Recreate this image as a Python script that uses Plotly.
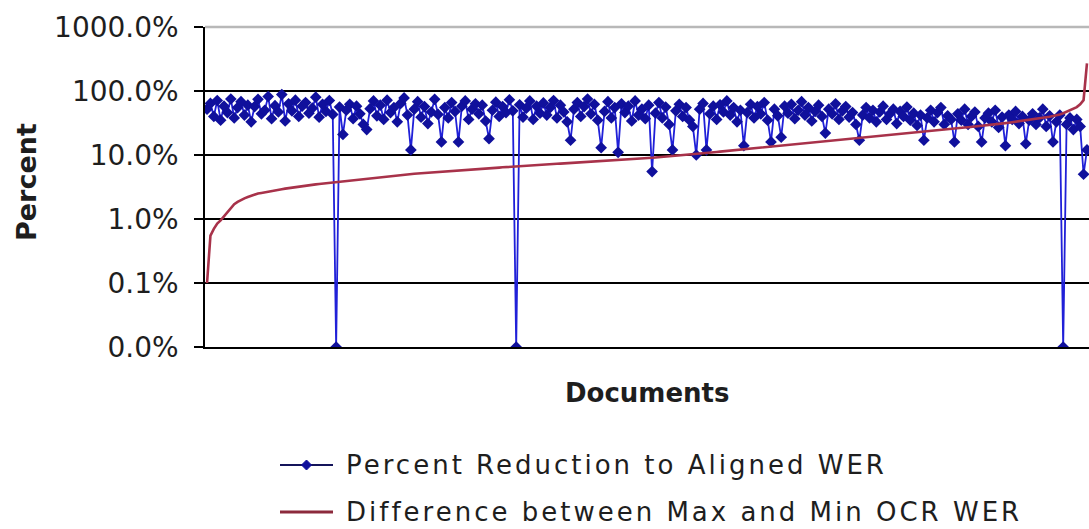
import plotly.graph_objects as go

# Percent reduction to aligned WER, one value per document (0.01 is the 0.0% floor of the log axis)
reduction_pct = [
    52, 64, 40, 71, 35, 58, 46, 75, 38, 55,
    68, 42, 60, 33, 57, 74, 44, 50, 82, 37,
    59, 47, 88, 34, 63, 49, 72, 40, 58, 66,
    45, 54, 80, 39, 62, 48, 71, 43, 0.01, 56,
    21, 50, 62, 37, 58, 44, 30, 25, 53, 70,
    41, 60, 36, 72, 46, 55, 33, 64, 78, 42,
    12, 52, 68, 39, 57, 31, 47, 74, 43, 16,
    55, 38, 66, 48, 16, 58, 70, 36, 52, 63,
    44, 60, 34, 18, 50, 67, 40, 57, 46, 73,
    49, 0.01, 61, 39, 54, 70, 36, 58, 45, 65,
    42, 55, 71, 38, 60, 47, 33, 17, 52, 66,
    40, 57, 75, 44, 62, 35, 13, 48, 68, 38,
    55, 11, 63, 46, 58, 34, 70, 42, 52, 37,
    60, 5.5, 45, 66, 38, 56, 30, 12, 49, 62,
    40, 55, 35, 28, 10, 52, 64, 12, 44, 58,
    36, 61, 47, 70, 42, 55, 33, 50, 14, 46,
    62, 38, 57, 44, 66, 35, 16, 52, 41, 19,
    58, 45, 62, 37, 50, 68, 42, 55, 34, 48,
    60, 40, 22, 52, 44, 63, 36, 49, 57, 39,
    46, 30, 17, 42, 55, 38, 50, 33, 47, 58,
    36, 44, 52, 31, 48, 40, 56, 35, 45, 29,
    42, 17, 38, 50, 33, 46, 55, 30, 41, 36,
    16, 44, 35, 52, 30, 40, 47, 28, 16, 38,
    45, 33, 50, 27, 39, 14, 42, 36, 48, 31,
    40, 15, 35, 44, 30, 38, 52, 28, 41, 16,
    33, 42, 0.01, 30, 38, 25, 36, 28, 5, 12,
]

# Difference between max and min OCR WER, documents sorted by this value
ocr_diff_pct = [
    0.10, 0.55, 0.70, 0.85, 0.95, 1.10, 1.30, 1.50, 1.70, 1.85,
    2.00, 2.10, 2.20, 2.30, 2.40, 2.50, 2.55, 2.62, 2.68, 2.74,
    2.80, 2.86, 2.92, 2.98, 3.04, 3.10, 3.16, 3.22, 3.28, 3.33,
    3.38, 3.43, 3.48, 3.53, 3.58, 3.63, 3.68, 3.73, 3.78, 3.83,
    3.88, 3.93, 3.98, 4.03, 4.08, 4.13, 4.18, 4.23, 4.28, 4.34,
    4.40, 4.47, 4.54, 4.61, 4.68, 4.75, 4.82, 4.89, 4.96, 5.02,
    5.06, 5.10, 5.14, 5.18, 5.22, 5.26, 5.30, 5.34, 5.38, 5.42,
    5.46, 5.50, 5.55, 5.60, 5.65, 5.70, 5.76, 5.82, 5.88, 5.94,
    6.00, 6.06, 6.12, 6.18, 6.24, 6.30, 6.36, 6.42, 6.48, 6.55,
    6.62, 6.68, 6.73, 6.78, 6.83, 6.88, 6.93, 6.98, 7.03, 7.08,
    7.13, 7.18, 7.23, 7.28, 7.33, 7.38, 7.44, 7.50, 7.56, 7.62,
    7.68, 7.74, 7.80, 7.86, 7.92, 7.98, 8.04, 8.10, 8.16, 8.22,
    8.28, 8.34, 8.40, 8.46, 8.52, 8.58, 8.64, 8.72, 8.80, 8.88,
    8.96, 9.05, 9.14, 9.23, 9.32, 9.42, 9.52, 9.62, 9.72, 9.83,
    9.94, 10.05, 10.16, 10.28, 10.40, 10.52, 10.64, 10.77, 10.90, 11.03,
    11.16, 11.30, 11.44, 11.58, 11.72, 11.86, 12.00, 12.15, 12.30, 12.45,
    12.60, 12.76, 12.92, 13.08, 13.24, 13.40, 13.56, 13.72, 13.90, 14.08,
    14.26, 14.44, 14.62, 14.80, 15.00, 15.20, 15.40, 15.60, 15.80, 16.00,
    16.20, 16.40, 16.60, 16.80, 17.00, 17.20, 17.40, 17.60, 17.85, 18.10,
    18.35, 18.60, 18.85, 19.10, 19.35, 19.60, 19.85, 20.10, 20.35, 20.60,
    20.85, 21.10, 21.35, 21.60, 21.85, 22.10, 22.35, 22.60, 22.85, 23.10,
    23.35, 23.60, 23.85, 24.10, 24.35, 24.60, 24.85, 25.10, 25.40, 25.70,
    26.00, 26.30, 26.60, 26.90, 27.20, 27.50, 27.80, 28.20, 28.60, 29.00,
    29.40, 29.80, 30.20, 30.60, 31.00, 31.50, 32.00, 32.50, 33.00, 33.60,
    34.20, 34.80, 35.40, 36.00, 36.70, 37.40, 38.10, 38.80, 39.60, 40.50,
    41.50, 43.00, 45.00, 47.50, 50.00, 53.00, 56.00, 62.00, 72.00, 270.0,
]

documents = list(range(1, len(reduction_pct) + 1))

y_tick_vals = [0.01, 0.1, 1, 10, 100, 1000]
y_tick_text = ["0.0%", "0.1%", "1.0%", "10.0%", "100.0%", "1000.0%"]

series_names = ["Percent Reduction to Aligned WER",
                "Difference between Max and Min OCR WER"]

BLUE_LINE = "#2020d8"
BLUE_MARK = "#10109c"
RED_LINE = "#a8324a"
FONT = "DejaVu Sans"
INK = "#1e1e1e"

W, H = 1089, 529
L, R, T, B = 205, 0, 27, 182
PW, PH = W - L - R, H - T - B


def px(x):
    return (x - L) / PW


def py(y):
    return (H - B - y) / PH


fig = go.Figure()

fig.add_trace(go.Scatter(
    x=documents, y=reduction_pct, mode="lines+markers",
    name=series_names[0],
    line=dict(color=BLUE_LINE, width=1.8),
    marker=dict(symbol="diamond", size=9, color=BLUE_MARK),
    showlegend=False,
))
fig.add_trace(go.Scatter(
    x=documents, y=ocr_diff_pct, mode="lines",
    name=series_names[1],
    line=dict(color=RED_LINE, width=2.6),
    showlegend=False,
))

n = len(documents)
fig.update_xaxes(
    range=[1 - 0.6, n + 0.6], showticklabels=False, ticks="",
    showgrid=False, zeroline=False,
    showline=True, linecolor="black", linewidth=1.5,
)
fig.update_yaxes(
    type="log", range=[-2, 3],
    tickvals=y_tick_vals, ticktext=y_tick_text,
    ticks="outside", ticklen=9, tickcolor="black", tickwidth=1.5,
    ticklabelstandoff=10,
    showgrid=True, gridcolor="black", gridwidth=1.5,
    showline=True, linecolor="black", linewidth=1.5,
    zeroline=False,
    tickfont=dict(family=FONT, size=28, color=INK),
)

# Lighter line along the top of the plot area (1000% level)
fig.add_shape(type="line", xref="paper", yref="paper",
              x0=0, x1=1, y0=1, y1=1,
              line=dict(color="#b8b8b8", width=2.5), layer="above")

# Axis titles
fig.add_annotation(text="<b>Documents</b>", xref="paper", yref="paper",
                   x=px(647), y=py(393), xanchor="center", yanchor="middle",
                   showarrow=False,
                   font=dict(family=FONT, size=26, color=INK))
fig.add_annotation(text="<b>Percent</b>", xref="paper", yref="paper",
                   x=px(26), y=py(182), xanchor="center", yanchor="middle",
                   showarrow=False, textangle=-90,
                   font=dict(family=FONT, size=27, color=INK))

# Legend drawn below the axis title
leg_rows = [465, 512]
x_a, x_b, x_txt = 280, 333, 344
fig.add_shape(type="line", xref="paper", yref="paper",
              x0=px(x_a), x1=px(x_b), y0=py(leg_rows[0]), y1=py(leg_rows[0]),
              line=dict(color="#14145a", width=2))
cx, cy, dx, dy = px((x_a + x_b) / 2), py(leg_rows[0]), 5 / PW, 5 / PH
fig.add_shape(type="path", xref="paper", yref="paper",
              path=f"M {cx - dx} {cy} L {cx} {cy + dy} L {cx + dx} {cy} L {cx} {cy - dy} Z",
              fillcolor=BLUE_MARK, line=dict(color=BLUE_MARK, width=1))
fig.add_shape(type="line", xref="paper", yref="paper",
              x0=px(x_a), x1=px(x_b), y0=py(leg_rows[1]), y1=py(leg_rows[1]),
              line=dict(color="#8c2a3c", width=3))
for name, row in zip(series_names, leg_rows):
    fig.add_annotation(text=f'<span style="letter-spacing:3px">{name}</span>',
                       xref="paper", yref="paper",
                       x=px(x_txt), y=py(row), xanchor="left", yanchor="middle",
                       showarrow=False,
                       font=dict(family=FONT, size=26, color=INK))

fig.update_layout(
    width=W, height=H,
    margin=dict(l=L, r=R, t=T, b=B),
    paper_bgcolor="white", plot_bgcolor="white",
    showlegend=False,
)

fig.write_html("out.html")
